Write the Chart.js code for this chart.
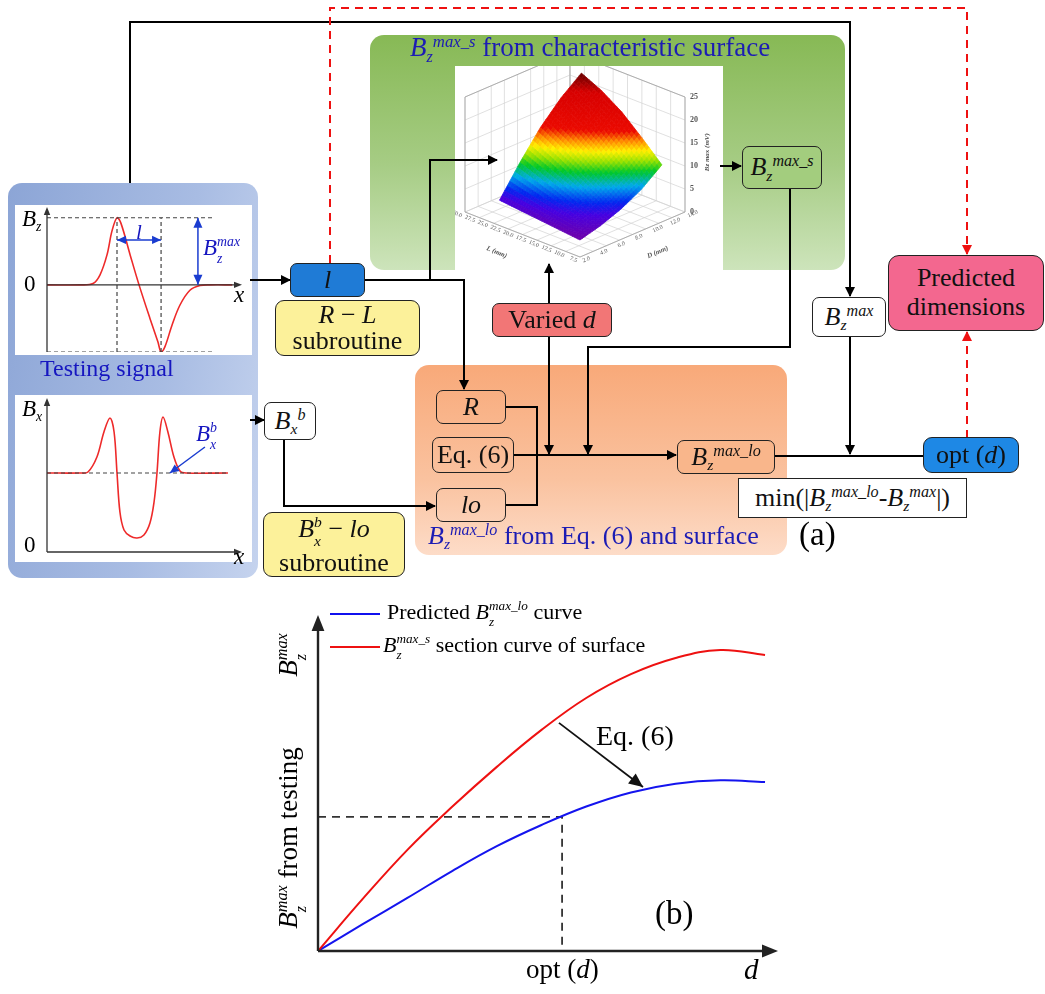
<!DOCTYPE html>
<html>
<head>
<meta charset="utf-8">
<title>Dimension prediction flow</title>
<script src="https://cdn.jsdelivr.net/npm/chart.js@4.4.1/dist/chart.umd.min.js"></script>
<style>
  body { margin: 0; background: #fff; font-family: "Liberation Serif", "Times New Roman", serif; }
  #page { position: relative; width: 1045px; height: 994px; overflow: hidden; }
  .panel { position: absolute; border-radius: 14px; z-index: 1; }
  .plot { position: absolute; background: #fff; z-index: 1; }
  canvas { position: absolute; z-index: 1; }
  svg { position: absolute; left: 0; top: 0; z-index: 2; }
  .box { position: absolute; box-sizing: border-box; border: 1.6px solid #222; border-radius: 7px;
         display: flex; flex-direction: column; align-items: center; justify-content: center;
         font-size: 26px; color: #111; line-height: 1.1; z-index: 3; white-space: nowrap; }
  .lbl { position: absolute; white-space: nowrap; z-index: 3; }
  .sub { font-size: .6em; position: relative; top: .35em; font-style: italic; }
  .sup { font-size: .62em; position: relative; top: -.55em; font-style: italic; }
  .stk { display: inline-flex; flex-direction: column; font-size: .6em; line-height: 1.2; vertical-align: .67em; font-style: italic; }
  .blue { color: #1616c0; }
</style>
</head>
<body>
<div id="page">
  <!-- panels -->
  <div class="panel" style="left:8px;top:183px;width:250px;height:395px;background:linear-gradient(100deg,#8ca5d6 0%,#a8bce3 60%,#c5d3ee 100%);"></div>
  <div class="plot" style="left:15px;top:205px;width:237px;height:150px;"></div>
  <div class="plot" style="left:15px;top:395px;width:237px;height:167px;"></div>
  <div class="panel" style="left:370px;top:35px;width:475px;height:235px;background:linear-gradient(to bottom,#87b955 0%,#a6cc84 55%,#cde4bb 100%);"></div>
  <div class="panel" style="left:415px;top:365px;width:372px;height:190px;background:linear-gradient(to bottom,#f8a979 0%,#fac29f 60%,#fddcc8 100%);"></div>

  <canvas id="bzChart" width="237" height="150" style="left:15px;top:205px;"></canvas>
  <canvas id="bxChart" width="237" height="167" style="left:15px;top:395px;"></canvas>
  <canvas id="surfChart" width="268" height="206" style="left:455px;top:66px;background:#fff;"></canvas>
  <canvas id="curveChart" width="560" height="394" style="left:240px;top:600px;"></canvas>

  <!-- connectors -->
  <svg width="1045" height="994">
    <defs>
      <marker id="ah" markerWidth="10" markerHeight="10" refX="9" refY="5" orient="auto" markerUnits="userSpaceOnUse">
        <path d="M0,0 L10,5 L0,10 z" fill="#000"/>
      </marker>
      <marker id="ahr" markerWidth="10" markerHeight="10" refX="9" refY="5" orient="auto" markerUnits="userSpaceOnUse">
        <path d="M0,0 L10,5 L0,10 z" fill="#ee1111"/>
      </marker>
    </defs>
    <g fill="none" stroke="#000" stroke-width="2">
      <path d="M130 183 V22 H850 V296" marker-end="url(#ah)"/>
      <path d="M250 280 H290" marker-end="url(#ah)"/>
      <path d="M365 280 H464 V389" marker-end="url(#ah)"/>
      <path d="M430 280 V160 H497" marker-end="url(#ah)"/>
      <path d="M549 303 V264" marker-end="url(#ah)"/>
      <path d="M549 337 V454" marker-end="url(#ah)"/>
      <path d="M720 166 H741" marker-end="url(#ah)"/>
      <path d="M790 188 V347 H588 V454" marker-end="url(#ah)"/>
      <path d="M506 407 H537 V505 H506"/>
      <path d="M514 455 H676" marker-end="url(#ah)"/>
      <path d="M775 456 H923"/>
      <path d="M850 337 V454" marker-end="url(#ah)"/>
      <path d="M250 420 H264" marker-end="url(#ah)"/>
      <path d="M284 440 V506 H435" marker-end="url(#ah)"/>
    </g>
    <g fill="none" stroke="#ee1111" stroke-width="2" stroke-dasharray="8,6">
      <path d="M330 263 V8 H967 V254" marker-end="url(#ahr)"/>
      <path d="M967 438 V332" marker-end="url(#ahr)"/>
    </g>
  </svg>

  <!-- mini plot labels -->
  <div class="lbl" style="left:22px;top:206px;font-size:23px;"><i>B</i><span class="sub">z</span></div>
  <div class="lbl" style="left:24px;top:271px;font-size:23px;">0</div>
  <div class="lbl" style="left:234px;top:282px;font-size:23px;"><i>x</i></div>
  <div class="lbl blue" style="left:136px;top:220px;font-size:21px;"><i>l</i></div>
  <div class="lbl blue" style="left:203px;top:234px;font-size:23px;"><i>B</i><span class="stk"><span>max</span><span>z</span></span></div>
  <div class="lbl blue" style="left:40px;top:355px;font-size:24px;">Testing signal</div>
  <div class="lbl" style="left:22px;top:396px;font-size:23px;"><i>B</i><span class="sub">x</span></div>
  <div class="lbl" style="left:24px;top:532px;font-size:23px;">0</div>
  <div class="lbl" style="left:234px;top:544px;font-size:23px;"><i>x</i></div>
  <div class="lbl blue" style="left:196px;top:420px;font-size:23px;"><i>B</i><span class="stk"><span>b</span><span>x</span></span></div>

  <!-- titles -->
  <div class="lbl" style="left:410px;top:32px;font-size:27px;color:#1c1cb4;"><i>B</i><span class="sub">z</span><span class="sup">max_s</span> from characteristic surface</div>
  <div class="lbl" style="left:428px;top:521px;font-size:26px;color:#1c1cb4;"><i>B</i><span class="sub">z</span><span class="sup">max_lo</span> from Eq. (6) and surface</div>
  <div class="lbl" style="left:799px;top:516px;font-size:33px;">(a)</div>

  <!-- boxes -->
  <div class="box" style="left:742px;top:146px;width:80px;height:43px;background:#a3cd7e;"><div><i>B</i><span class="sub">z</span><span class="sup">max_s</span></div></div>
  <div class="box" style="left:290px;top:263px;width:75px;height:34px;background:#1f7bd6;"><i>l</i></div>
  <div class="box" style="left:275px;top:300px;width:145px;height:56px;background:#fcf19a;border-radius:9px;line-height:1.0;"><div><i>R</i> &minus; <i>L</i></div><div>subroutine</div></div>
  <div class="box" style="left:492px;top:303px;width:120px;height:34px;background:#f27676;"><div>Varied <i>d</i></div></div>
  <div class="box" style="left:436px;top:390px;width:70px;height:34px;"><i>R</i></div>
  <div class="box" style="left:432px;top:437px;width:82px;height:36px;">Eq. (6)</div>
  <div class="box" style="left:436px;top:488px;width:70px;height:34px;"><i>lo</i></div>
  <div class="box" style="left:677px;top:440px;width:98px;height:34px;background:#f9b68b;"><div><i>B</i><span class="sub">z</span><span class="sup">max_lo</span></div></div>
  <div class="box" style="left:812px;top:297px;width:74px;height:40px;background:#fff;"><div><i>B</i><span class="sub">z</span><span class="sup">max</span></div></div>
  <div class="box" style="left:888px;top:255px;width:156px;height:76px;background:#f3678f;border-radius:11px;"><div>Predicted</div><div>dimensions</div></div>
  <div class="box" style="left:923px;top:437px;width:96px;height:36px;background:#1e88e5;border-radius:9px;"><div>opt (<i>d</i>)</div></div>
  <div class="box" style="left:738px;top:478px;width:229px;height:40px;background:#fff;border-radius:0;font-size:26px;"><div>min(|<i>B</i><span class="sub">z</span><span class="sup">max_lo</span>-<i>B</i><span class="sub">z</span><span class="sup">max</span>|)</div></div>
  <div class="box" style="left:264px;top:402px;width:52px;height:38px;background:#fff;"><div><i>B</i><span class="sub">x</span><span class="sup">b</span></div></div>
  <div class="box" style="left:263px;top:512px;width:142px;height:65px;background:#fcf19a;border-radius:9px;line-height:1.0;"><div><i>B</i><span class="stk"><span>b</span><span>x</span></span> &minus; <i>lo</i></div><div>subroutine</div></div>

  <!-- chart (b) texts -->
  <div class="lbl" style="left:330px;top:598px;font-size:22px;"><span style="display:inline-block;width:50px;border-top:2px solid #1010ee;vertical-align:middle;margin-right:7px;"></span>Predicted <i>B</i><span class="stk"><span>max_lo</span><span>z</span></span> curve</div>
  <div class="lbl" style="left:330px;top:631px;font-size:22px;"><span style="display:inline-block;width:50px;border-top:2px solid #ee1111;vertical-align:middle;margin-right:3px;"></span><i>B</i><span class="stk"><span>max_s</span><span>z</span></span> section curve of surface</div>
  <div class="lbl" style="left:292px;top:838px;font-size:27px;transform:translate(-50%,-50%) rotate(-90deg);"><i>B</i><span class="stk"><span>max</span><span>z</span></span> from testing</div>
  <div class="lbl" style="left:292px;top:655px;font-size:27px;transform:translate(-50%,-50%) rotate(-90deg);"><i>B</i><span class="stk"><span>max</span><span>z</span></span></div>
  <div class="lbl" style="left:596px;top:720px;font-size:28px;">Eq. (6)</div>
  <div class="lbl" style="left:655px;top:895px;font-size:33px;">(b)</div>
  <div class="lbl" style="left:526px;top:954px;font-size:27px;">opt (<i>d</i>)</div>
  <div class="lbl" style="left:744px;top:953px;font-size:29px;"><i>d</i></div>
</div>

<script>
// ---- testing signal, Bz component (x in arbitrary units, Bz normalised to the peak)
const BZ_X = [0, 1.69, 2.36, 2.72, 3.08, 3.33, 3.59, 3.79, 4.26, 4.72, 5.28, 5.69, 5.85, 6.05, 6.41, 6.82, 7.33, 7.85, 8.36, 9.5];
const BZ_Y = [0, 0, 0.02, 0.15, 0.45, 0.8, 1.0, 0.92, 0.45, 0, -0.5, -0.85, -1.0, -0.92, -0.6, -0.3, -0.08, -0.01, 0, 0];
const BZ_PEAK_X = 3.59, BZ_VALLEY_X = 5.85, BZ_GUIDE_END = 8.6, BZ_MAX_X = 7.74, L_ARROW_Y = 0.67;

// ---- testing signal, Bx component
const BX_X = [0, 1.69, 2.1, 2.56, 2.92, 3.23, 3.44, 3.59, 3.74, 3.95, 4.26, 4.62, 4.97, 5.28, 5.49, 5.64, 5.79, 5.95, 6.2, 6.51, 6.82, 7.13, 9.28];
const BX_Y = [7.9, 7.9, 8.0, 9.5, 12.0, 13.4, 12.0, 7.9, 4.0, 2.2, 1.6, 1.4, 1.7, 2.9, 5.0, 7.9, 12.0, 13.5, 12.0, 9.5, 8.1, 7.9, 7.9];
const BX_BASE = 7.9;
const BXB_ARROW_X = [8.1, 6.3], BXB_ARROW_Y = [10.5, 7.9];

// ---- characteristic surface Bz_max_s (mV): rows follow L (mm), columns follow D (mm)
const SURF_L = [7.5, 11.25, 15, 18.75, 22.5];
const SURF_D = [2, 4, 6, 8, 10];
const SURF_B = [
  [3.7, 4.9, 6.6, 9.0, 12.4],
  [4.15, 6.6, 9.4, 12.6, 16.6],
  [4.6, 8.3, 12.3, 16.3, 20.5],
  [5.05, 10.0, 15.0, 19.6, 23.4],
  [5.5, 11.8, 17.5, 22.0, 25.5]
];
const SURF_ZTICKS = [0, 5, 10, 15, 20, 25];
const AXIS_L_TICKS = [7.5, 10, 12.5, 15, 17.5, 20, 22.5, 25, 27.5, 30];
const AXIS_D_TICKS = [2, 4, 6, 8, 10, 12, 14];

// ---- (b) section curves against d
const D_VALS = [0, 1, 2, 3, 4, 5, 6, 7, 8, 9, 10];
const RED_S = [0, 1.55, 3.01, 4.29, 5.48, 6.58, 7.53, 8.24, 8.72, 8.96, 8.81];
const BLUE_LO = [0, 0.80, 1.58, 2.38, 3.12, 3.75, 4.30, 4.72, 4.98, 5.08, 5.03];
const OPT_D = 5.46, OPT_B = 3.99;
const EQ_ARROW_X = [5.39, 7.27], EQ_ARROW_Y = [6.79, 4.88];

function head(ctx, x1, y1, x2, y2, len, wid) {
    const a = Math.atan2(y2 - y1, x2 - x1);
    ctx.beginPath();
    ctx.moveTo(x2, y2);
    ctx.lineTo(x2 - len * Math.cos(a) + wid * Math.sin(a), y2 - len * Math.sin(a) - wid * Math.cos(a));
    ctx.lineTo(x2 - len * Math.cos(a) - wid * Math.sin(a), y2 - len * Math.sin(a) + wid * Math.cos(a));
    ctx.closePath();
    ctx.fill();
}

// axes with arrow tips + extra annotation arrows, all in data units
const arrowPlugin = {
    id: "arrows",
    afterDatasetsDraw(chart, args, opts) {
        const { ctx, chartArea: ca, scales: { x, y } } = chart;
        ctx.save();
        if (opts.axes) {
            const a = opts.axes;
            ctx.strokeStyle = a.color; ctx.fillStyle = a.color; ctx.lineWidth = a.width;
            const y0 = y.getPixelForValue(0), x0 = x.getPixelForValue(0);
            ctx.beginPath(); ctx.moveTo(ca.left, y0); ctx.lineTo(ca.right - a.head + 2, y0); ctx.stroke();
            head(ctx, ca.left, y0, ca.right, y0, a.head, a.head * 0.4);
            ctx.beginPath(); ctx.moveTo(x0, ca.bottom); ctx.lineTo(x0, ca.top + a.head - 2); ctx.stroke();
            head(ctx, x0, ca.bottom, x0, ca.top, a.head, a.head * 0.4);
        }
        (opts.items || []).forEach(it => {
            const px = it.x.map(v => x.getPixelForValue(v));
            const py = it.y.map(v => y.getPixelForValue(v));
            ctx.strokeStyle = it.color; ctx.fillStyle = it.color; ctx.lineWidth = it.width;
            ctx.beginPath(); ctx.moveTo(px[0], py[0]); ctx.lineTo(px[1], py[1]); ctx.stroke();
            head(ctx, px[0], py[0], px[1], py[1], it.head, it.head * 0.45);
            if (it.both) head(ctx, px[1], py[1], px[0], py[0], it.head, it.head * 0.45);
        });
        ctx.restore();
    }
};

function pts(xs, ys) { return xs.map((v, i) => ({ x: v, y: ys[i] })); }

function guide(data) {
    return { data, borderColor: "#444", borderWidth: 1.2, borderDash: [4, 3], pointRadius: 0, showLine: true, fill: false };
}

function renderBzChart() {
    const ctx = document.getElementById("bzChart").getContext("2d");
    new Chart(ctx, {
        type: "scatter",
        data: {
            datasets: [
                guide([{ x: 0, y: 1 }, { x: BZ_GUIDE_END, y: 1 }]),
                guide([{ x: 0, y: -1 }, { x: BZ_GUIDE_END, y: -1 }]),
                guide([{ x: BZ_PEAK_X, y: -1 }, { x: BZ_PEAK_X, y: 1 }]),
                guide([{ x: BZ_VALLEY_X, y: -1 }, { x: BZ_VALLEY_X, y: 1 }]),
                { data: pts(BZ_X, BZ_Y), borderColor: "#ee2a2a", borderWidth: 1.6, pointRadius: 0, showLine: true, tension: 0.35 }
            ]
        },
        options: {
            responsive: false, animation: false,
            layout: { padding: { left: 32, right: 10, top: 2, bottom: 3 } },
            scales: { x: { display: false, min: 0, max: 10 }, y: { display: false, min: -1.0, max: 1.16 } },
            plugins: {
                legend: { display: false }, tooltip: { enabled: false },
                arrows: {
                    axes: { color: "#333", width: 1.3, head: 8 },
                    items: [
                        { x: [BZ_PEAK_X, BZ_VALLEY_X], y: [L_ARROW_Y, L_ARROW_Y], color: "#1a3cd0", width: 1.5, head: 9, both: true },
                        { x: [BZ_MAX_X, BZ_MAX_X], y: [1, 0], color: "#1a3cd0", width: 1.5, head: 10, both: true }
                    ]
                }
            }
        },
        plugins: [arrowPlugin]
    });
}

function renderBxChart() {
    const ctx = document.getElementById("bxChart").getContext("2d");
    new Chart(ctx, {
        type: "scatter",
        data: {
            datasets: [
                guide([{ x: 0, y: BX_BASE }, { x: BX_X[BX_X.length - 1], y: BX_BASE }]),
                { data: pts(BX_X, BX_Y), borderColor: "#ee2a2a", borderWidth: 1.6, pointRadius: 0, showLine: true, tension: 0.35 }
            ]
        },
        options: {
            responsive: false, animation: false,
            layout: { padding: { left: 32, right: 10, top: 3, bottom: 10 } },
            scales: { x: { display: false, min: 0, max: 10 }, y: { display: false, min: 0, max: 15.4 } },
            plugins: {
                legend: { display: false }, tooltip: { enabled: false },
                arrows: {
                    axes: { color: "#333", width: 1.3, head: 8 },
                    items: [{ x: BXB_ARROW_X, y: BXB_ARROW_Y, color: "#1a3cd0", width: 1.5, head: 9 }]
                }
            }
        },
        plugins: [arrowPlugin]
    });
}

// rainbow colour map used by the characteristic surface
const CMAP = [[3.7, [110, 0, 170]], [6, [70, 0, 225]], [7.5, [0, 40, 240]], [9.5, [0, 170, 235]], [11.5, [0, 200, 40]],
              [13, [150, 225, 0]], [14.5, [255, 240, 0]], [16, [255, 140, 0]], [17.5, [235, 10, 0]], [23, [215, 0, 0]], [25.5, [100, 0, 0]]];
function cmap(z) {
    if (z <= CMAP[0][0]) return `rgb(${CMAP[0][1]})`;
    for (let i = 1; i < CMAP.length; i++) {
        if (z <= CMAP[i][0]) {
            const t = (z - CMAP[i - 1][0]) / (CMAP[i][0] - CMAP[i - 1][0]);
            const c = CMAP[i - 1][1].map((v, k) => Math.round(v + t * (CMAP[i][1][k] - v)));
            return `rgb(${c})`;
        }
    }
    return `rgb(${CMAP[CMAP.length - 1][1]})`;
}

const surfacePlugin = {
    id: "surface",
    afterDatasetsDraw(chart) {
        const { ctx, scales: { x, y } } = chart;
        // oblique box: front floor corner, L and D edge vectors, px per mV, extent of the sampled surface
        const F = [125, 191], LV = [-115, -45], RV = [105, -45], ZS = 4.6, ZTOP = 25, UMAX = 0.7, VMAX = 0.78;
        const P = (u, v, z) => [
            x.getPixelForValue(F[0] + u * LV[0] + v * RV[0]),
            y.getPixelForValue(F[1] + u * LV[1] + v * RV[1] - z * ZS)
        ];
        const line = (a, b) => { ctx.beginPath(); ctx.moveTo(a[0], a[1]); ctx.lineTo(b[0], b[1]); ctx.stroke(); };
        ctx.save();
        // box: floor and back walls
        ctx.strokeStyle = "#d2d2d2"; ctx.lineWidth = 0.7;
        for (let k = 0; k <= 8; k++) {
            const t = k / 8;
            line(P(t, 0, 0), P(t, 1, 0));
            line(P(0, t, 0), P(1, t, 0));
            line(P(1, t, 0), P(1, t, ZTOP));
            line(P(t, 1, 0), P(t, 1, ZTOP));
        }
        SURF_ZTICKS.forEach(z => { line(P(1, 0, z), P(1, 1, z)); line(P(1, 1, z), P(0, 1, z)); });
        ctx.strokeStyle = "#a8a8a8"; ctx.lineWidth = 0.9;
        line(P(1, 0, ZTOP), P(1, 1, ZTOP)); line(P(1, 1, ZTOP), P(0, 1, ZTOP));
        line(P(0, 0, 0), P(1, 0, 0)); line(P(0, 0, 0), P(0, 1, 0));
        line(P(0, 1, 0), P(0, 1, ZTOP)); line(P(1, 0, 0), P(1, 0, ZTOP)); line(P(1, 1, 0), P(1, 1, ZTOP));

        // surface quads, back to front
        const n = SURF_L.length - 1, sub = 8, quads = [];
        for (let i = 0; i < n; i++) for (let j = 0; j < n; j++) {
            const z00 = SURF_B[i][j], z10 = SURF_B[i + 1][j], z01 = SURF_B[i][j + 1], z11 = SURF_B[i + 1][j + 1];
            const zf = (a, b) => z00 * (1 - a) * (1 - b) + z10 * a * (1 - b) + z01 * (1 - a) * b + z11 * a * b;
            for (let a = 0; a < sub; a++) for (let b = 0; b < sub; b++) {
                const a0 = a / sub, a1 = (a + 1) / sub, b0 = b / sub, b1 = (b + 1) / sub;
                const u0 = (i + a0) / n * UMAX, u1 = (i + a1) / n * UMAX, v0 = (j + b0) / n * VMAX, v1 = (j + b1) / n * VMAX;
                quads.push({
                    d: u0 + v0,
                    p: [P(u0, v0, zf(a0, b0)), P(u1, v0, zf(a1, b0)), P(u1, v1, zf(a1, b1)), P(u0, v1, zf(a0, b1))],
                    c: cmap(zf((a0 + a1) / 2, (b0 + b1) / 2))
                });
            }
        }
        quads.sort((q1, q2) => q2.d - q1.d);
        ctx.lineWidth = 0.8;
        quads.forEach(q => {
            ctx.beginPath();
            ctx.moveTo(q.p[0][0], q.p[0][1]);
            for (let k = 1; k < 4; k++) ctx.lineTo(q.p[k][0], q.p[k][1]);
            ctx.closePath();
            ctx.fillStyle = q.c; ctx.strokeStyle = q.c;
            ctx.fill(); ctx.stroke();
        });

        // tick labels
        ctx.fillStyle = "#555"; ctx.font = "bold 8px 'Liberation Serif'";
        ctx.textBaseline = "middle";
        SURF_ZTICKS.forEach(z => { const p = P(0, 1, z); ctx.fillText(String(z), p[0] + 5, p[1]); });
        ctx.font = "6px 'Liberation Serif'";
        AXIS_L_TICKS.forEach((l, i) => {
            const p = P(i / (AXIS_L_TICKS.length - 1), 0, 0);
            ctx.save(); ctx.translate(p[0] - 3, p[1] + 4); ctx.rotate(0.4); ctx.textAlign = "right";
            ctx.fillText(l.toFixed(1), 0, 0); ctx.restore();
        });
        AXIS_D_TICKS.forEach((d, j) => {
            const p = P(0, j / (AXIS_D_TICKS.length - 1), 0);
            ctx.save(); ctx.translate(p[0] + 3, p[1] + 4); ctx.rotate(-0.4); ctx.textAlign = "left";
            ctx.fillText(d.toFixed(1), 0, 0); ctx.restore();
        });
        ctx.font = "italic bold 7px 'Liberation Serif'";
        let p = P(0.55, 0, 0);
        ctx.save(); ctx.translate(p[0] - 20, p[1] + 20); ctx.rotate(0.4); ctx.textAlign = "center"; ctx.fillText("L (mm)", 0, 0); ctx.restore();
        p = P(0, 0.55, 0);
        ctx.save(); ctx.translate(p[0] + 20, p[1] + 20); ctx.rotate(-0.4); ctx.textAlign = "center"; ctx.fillText("D (mm)", 0, 0); ctx.restore();
        p = P(0, 1, 13);
        ctx.save(); ctx.translate(p[0] + 22, p[1]); ctx.rotate(-Math.PI / 2); ctx.textAlign = "center"; ctx.fillText("Bz max (mV)", 0, 0); ctx.restore();
        ctx.restore();
    }
};

function renderSurfaceChart() {
    const ctx = document.getElementById("surfChart").getContext("2d");
    new Chart(ctx, {
        type: "scatter",
        data: { datasets: [{ data: [], pointRadius: 0 }] },
        options: {
            responsive: false, animation: false,
            layout: { padding: 0 },
            scales: { x: { display: false, min: 0, max: 268 }, y: { display: false, min: 0, max: 206, reverse: true } },
            plugins: { legend: { display: false }, tooltip: { enabled: false } }
        },
        plugins: [surfacePlugin]
    });
}

function renderCurveChart() {
    const ctx = document.getElementById("curveChart").getContext("2d");
    new Chart(ctx, {
        type: "scatter",
        data: {
            datasets: [
                { label: "section curve of surface", data: pts(D_VALS, RED_S), borderColor: "#ee1111", borderWidth: 2, pointRadius: 0, showLine: true, tension: 0.4 },
                { label: "Predicted curve", data: pts(D_VALS, BLUE_LO), borderColor: "#1414ee", borderWidth: 2, pointRadius: 0, showLine: true, tension: 0.4 },
                { data: [{ x: 0, y: OPT_B }, { x: OPT_D, y: OPT_B }, { x: OPT_D, y: 0 }], borderColor: "#333", borderWidth: 1.8, borderDash: [8, 6], pointRadius: 0, showLine: true }
            ]
        },
        options: {
            responsive: false, animation: false,
            layout: { padding: { left: 78, right: 22, top: 15, bottom: 43 } },
            scales: { x: { display: false, min: 0, max: 10.29 }, y: { display: false, min: 0, max: 10 } },
            plugins: {
                legend: { display: false }, tooltip: { enabled: false },
                arrows: {
                    axes: { color: "#222", width: 2.4, head: 16 },
                    items: [{ x: EQ_ARROW_X, y: EQ_ARROW_Y, color: "#111", width: 1.8, head: 14 }]
                }
            }
        },
        plugins: [arrowPlugin]
    });
}

renderBzChart();
renderBxChart();
renderSurfaceChart();
renderCurveChart();
</script>
</body>
</html>
